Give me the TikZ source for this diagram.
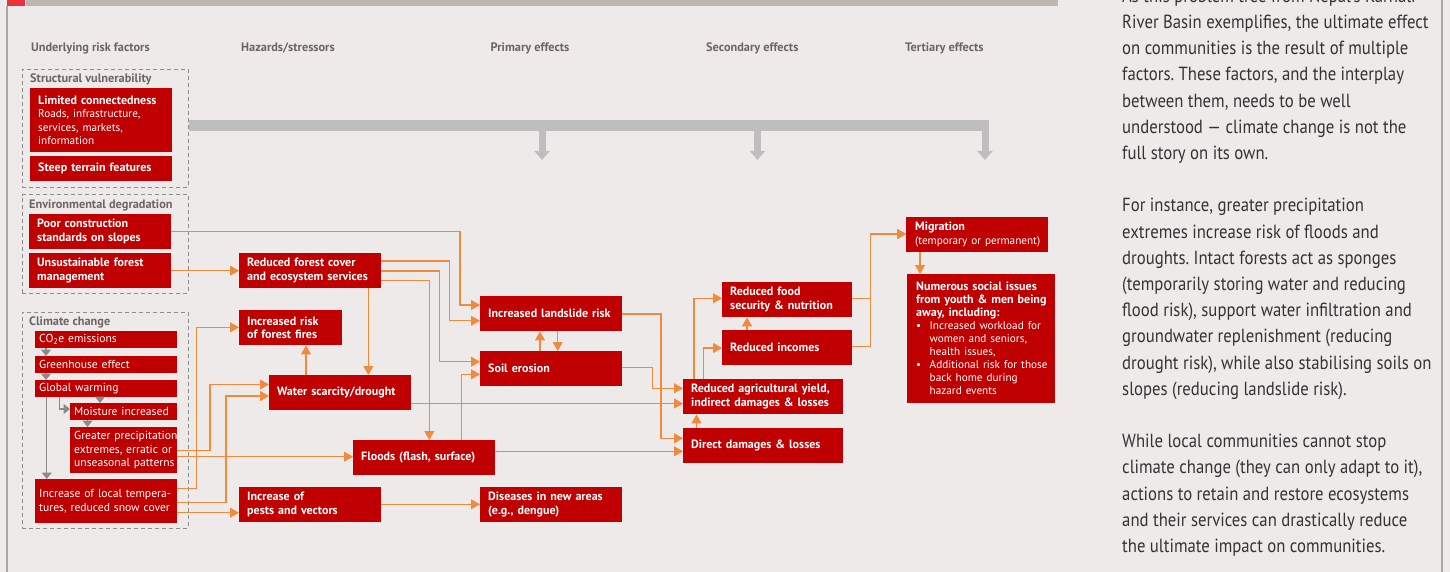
\documentclass[tikz,border=0pt]{standalone}
\usepackage{fontspec}
\setmainfont{PT Sans}
\newfontfamily\rtfont{PT Sans}[FakeStretch=0.88]
\usetikzlibrary{arrows.meta}
\definecolor{bgc}{HTML}{EFEAEA}
\definecolor{boxred}{HTML}{C00000}
\definecolor{orng}{HTML}{F08A3C}
\definecolor{barg}{HTML}{BEBEBE}
\definecolor{dashg}{HTML}{8E8E8E}
\definecolor{headg}{HTML}{6E6462}
\definecolor{smallg}{HTML}{8A8A8A}
\definecolor{topg}{HTML}{C0B5B3}
\definecolor{topr}{HTML}{E8323C}
\definecolor{frameg}{HTML}{A8A8A8}
\definecolor{rtc}{HTML}{333333}
\newcommand\bulitem{\makebox[13.5pt][l]{\textbullet}}
\newcommand\bulind{\hspace*{13.5pt}}
\newcommand\regtxt{\mdseries\fontsize{11.2}{13.3}\selectfont}
\tikzset{
  rbox/.style={fill=boxred, text=white, anchor=north west, align=left,
    inner xsep=8pt, inner ysep=0pt, text width=126pt, minimum height=35pt,
    font=\fontsize{12}{13.6}\selectfont\bfseries},
  cbox/.style={rbox, inner xsep=4pt, text width=134pt, minimum height=17pt,
    font=\fontsize{11.6}{13.3}\selectfont},
  dbox/.style={draw=dashg, line width=0.9pt, dash pattern=on 4pt off 3pt,
    anchor=north west, inner sep=0pt},
  hdr/.style={anchor=west, text=headg, inner sep=0pt,
    font=\fontsize{12.3}{13}\selectfont\bfseries},
  oarr/.style={draw=orng, line width=1.2pt, -{Triangle[length=9pt,width=10pt]}},
  gsm/.style={draw=smallg, line width=1.4pt, -{Triangle[length=6.5pt,width=10pt]}},
  gbig/.style={draw=barg, line width=7pt, -{Triangle[length=9pt,width=15pt]}},
}
\begin{document}
\begin{tikzpicture}[x=1pt,y=-1pt]
\useasboundingbox (0,0) rectangle (1450,572);
\fill[bgc] (0,0) rectangle (1450,572);
\clip (0,0) rectangle (1450,572);
% frame
\fill[topr] (7,0) rectangle (25,6);
\fill[topg] (26,0) rectangle (1058,6);
\draw[frameg, line width=1.5pt] (7,6) -- (7,572);
\draw[frameg, line width=1.5pt] (1442,0) -- (1442,572);

% headers
\node[hdr] (h1) at (31,48) {Underlying risk factors};
\node[hdr] (h2) at (241,48) {Hazards/stressors};
\node[hdr] (h3) at (490.5,48) {Primary effects};
\node[hdr] (h4) at (706,48) {Secondary effects};
\node[hdr] (h5) at (905,48) {Tertiary effects};

% dashed groups
\node[dbox, minimum width=166.3pt, minimum height=117.7pt] (sv) at (21.7,69) {};
\node[hdr] (svl) at (30,79) {Structural vulnerability};
\node[dbox, minimum width=166pt, minimum height=98.4pt] (ed) at (21.7,194.3) {};
\node[hdr] (edl) at (29,205) {Environmental degradation};
\node[dbox, minimum width=166pt, minimum height=216pt] (cc) at (21.7,311.7) {};
\node[hdr] (ccl) at (29,322.7) {Climate change};

% underlying boxes
\node[rbox, minimum height=64pt, font=\fontsize{12}{13.3}\selectfont\bfseries] (lc) at (30,88) {\mbox{Limited connectedness}\\{\regtxt Roads, infrastructure,}\\{\regtxt services, markets,}\\{\regtxt information}};
\node[rbox, minimum height=25pt] (st) at (30,156) {Steep terrain features};
\node[rbox] (pc) at (29,214) {Poor construction\\standards on slopes};
\node[rbox] (uf) at (29,253) {Unsustainable forest\\management};
\node[cbox] (co2) at (35,331) {CO\textsubscript{2}e emissions};
\node[cbox] (gh) at (35,356) {Greenhouse effect};
\node[cbox] (gw) at (35,380) {Global warming};
\node[cbox, text width=99pt] (mi) at (70,403) {Moisture increased};
\node[cbox, text width=99pt, minimum height=46pt] (gp) at (70,427) {\mbox{Greater precipitation}\\\mbox{extremes, erratic or}\\\mbox{unseasonal patterns}};
\node[cbox, minimum height=44pt] (lt) at (35,479) {\mbox{Increase of local tempera-}\\\mbox{tures, reduced snow cover}};

% hazards
\node[rbox] (rf) at (239,253) {\mbox{Reduced forest cover}\\\mbox{and ecosystem services}};
\node[rbox, text width=87pt] (ff) at (239,310) {Increased risk\\of forest fires};
\node[rbox] (ws) at (269,375) {\mbox{Water scarcity/drought}};
\node[rbox] (fl) at (353,440) {\mbox{Floods (flash, surface)}};
\node[rbox] (pv) at (239,487) {Increase of\\pests and vectors};

% primary
\node[rbox] (ls) at (480,296) {\mbox{Increased landslide risk}};
\node[rbox] (se) at (480,351) {Soil erosion};
\node[rbox] (dz) at (480,487) {\mbox{Diseases in new areas}\\(e.g., dengue)};

% secondary
\node[rbox, text width=144pt] (ay) at (683,379) {\mbox{Reduced agricultural yield,}\\\mbox{indirect damages \& losses}};
\node[rbox, text width=144pt] (dd) at (683,428) {\mbox{Direct damages \& losses}};
\node[rbox, text width=114pt] (fs) at (722,282) {Reduced food\\\mbox{security \& nutrition}};
\node[rbox, text width=114pt] (ri) at (722,330) {Reduced incomes};

% tertiary
\node[rbox, inner xsep=9pt, text width=124pt] (mg) at (906,217) {Migration\\{\regtxt\mbox{(temporary or permanent)}}};
\node[rbox, inner xsep=9pt, text width=130pt, minimum height=129pt,
  font=\fontsize{12}{13}\selectfont\bfseries] (ns) at (907,274)
  {\mbox{Numerous social issues}\\\mbox{from youth \& men being}\\away, including:\\
   {\mdseries\fontsize{11.2}{13}\selectfont\mbox{\bulitem Increased workload for}}\\
   {\mdseries\fontsize{11.2}{13}\selectfont\mbox{\bulind women and seniors,}}\\
   {\mdseries\fontsize{11.2}{13}\selectfont\mbox{\bulind health issues,}}\\
   {\mdseries\fontsize{11.2}{13}\selectfont\mbox{\bulitem Additional risk for those}}\\
   {\mdseries\fontsize{11.2}{13}\selectfont\mbox{\bulind back home during}}\\
   {\mdseries\fontsize{11.2}{13}\selectfont\mbox{\bulind hazard events}}};

% gray bar from structural vulnerability
\coordinate (barend) at (989,125.3);
\coordinate (t1) at (542,160);
\coordinate (t2) at (757.5,160);
\coordinate (t3) at (985,160);
\draw[barg, line width=10.7pt] (sv.east |- barend) -- (barend);
\draw[gbig] (t1 |- 0,128) -- (t1);
\draw[gbig] (t2 |- 0,128) -- (t2);
\draw[gbig] (t3 |- 0,128) -- (t3);

% small gray arrows in climate change
\draw[gsm] (46,0 |- co2.south) -- (46,0 |- gh.north);
\draw[gsm] (46,0 |- gh.south) -- (46,0 |- gw.north);
\draw[gsm] (100,0 |- gw.south) -- (100,0 |- mi.north);
\draw[gsm] (87.5,0 |- mi.south) -- (87.5,0 |- gp.north);
\draw[gsm] (46.7,0 |- gw.south) -- (46.7,0 |- lt.north);
\draw[gsm] (59.3,0 |- gw.south) |- (mi.west |- 0,409);

% orange connectors
\draw[oarr] (uf.east |- 0,270.7) -- (rf.west |- 0,270.7);
\draw[oarr] (pc.east |- 0,231.7) -| (460,305) -- (ls.west |- 0,305);
\draw[oarr] (rf.east |- 0,261) -| (449.3,320.7) -- (ls.west |- 0,320.7);
\draw[oarr] (rf.east |- 0,271) -| (439.5,361.7) -- (se.west |- 0,361.7);
\draw[oarr] (rf.east |- 0,280.7) -| (429.3,0 |- fl.north);
\draw[oarr] (368.3,0 |- rf.south) -- (368.3,0 |- ws.north);
\draw[oarr] (306,0 |- ws.north) -- (306,0 |- ff.south);
\draw[oarr] (lt.east |- 0,488.7) -| (196.7,327.3) -- (ff.west |- 0,327.3);
\draw[oarr] (gp.east |- 0,450.7) -| (210,384.5) -- (ws.west |- 0,384.5);
\draw[oarr] (lt.east |- 0,502.3) -| (226,396) -- (ws.west |- 0,396);
\draw[oarr] (gp.east |- 0,456.7) -- (fl.west |- 0,456.7);
\draw[oarr] (lt.east |- 0,512.7) -- (pv.west |- 0,512.7);
\draw[oarr] (pv.east |- 0,504.3) -- (dz.west |- 0,504.3);
\draw[oarr] (ws.east |- 0,403.5) -- (ay.west |- 0,403.5);
\draw[oarr] (461.7,0 |- fl.north) |- (se.west |- 0,374.3);
\draw[oarr] (fl.east |- 0,451.3) -- (dd.west |- 0,451.3);
\draw[oarr] (540,0 |- se.north) -- (540,0 |- ls.south);
\draw[oarr] (557.7,0 |- ls.south) -- (557.7,0 |- se.north);
\draw[oarr] (ls.east |- 0,314) -| (661,438.3) -- (dd.west |- 0,438.3);
\draw[oarr] (se.east |- 0,367.7) -| (652.3,388.3) -- (ay.west |- 0,388.3);
\draw[oarr] (696.5,0 |- dd.north) -- (696.5,0 |- ay.south);
\draw[oarr] (694,0 |- ay.north) |- (fs.west |- 0,298.3);
\draw[oarr] (703.5,0 |- ay.north) |- (ri.west |- 0,348);
\draw[oarr] (747,0 |- ri.north) -- (747,0 |- fs.south);
\draw[oarr] (fs.east |- 0,298.7) -| (870.7,234) -- (mg.west |- 0,234);
\draw[oarr] (ri.east |- 0,346.7) -| (870.7,234) -- (mg.west |- 0,234);
\draw[oarr] (920,0 |- mg.south) -- (920,0 |- ns.north);

% right-hand text
\node[anchor=base west, inner sep=0pt, text=rtc] (rt) at (1122,2.3)
 {\parbox[t]{325pt}{\rtfont\fontsize{19}{26.2}\selectfont\raggedright\frenchspacing
 As this problem tree from Nepal's Karnali\\
 River Basin exemplifies, the ultimate effect\\
 on communities is the result of multiple\\
 factors. These factors, and the interplay\\
 between them, needs to be well\\
 understood — climate change is not the\\
 full story on its own.\\[26.2pt]
 For instance, greater precipitation\\
 extremes increase risk of floods and\\
 droughts. Intact forests act as sponges\\
 (temporarily storing water and reducing\\
 flood risk), support water infiltration and\\
 groundwater replenishment (reducing\\
 drought risk), while also stabilising soils on\\
 slopes (reducing landslide risk).\\[26.2pt]
 While local communities cannot stop\\
 climate change (they can only adapt to it),\\
 actions to retain and restore ecosystems\\
 and their services can drastically reduce\\
 the ultimate impact on communities.}};
\end{tikzpicture}
\end{document}
